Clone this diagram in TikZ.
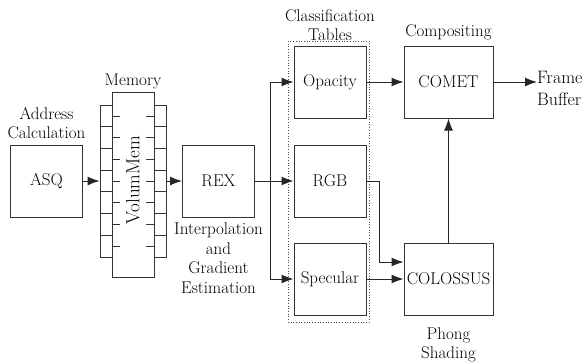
\documentclass[tikz,border=0pt]{standalone}
\usetikzlibrary{arrows.meta}
\tikzset{
  blk/.style={draw=black!80, line width=1pt, minimum width=72pt, minimum height=72pt, inner sep=0pt},
  cell/.style={draw=black!80, line width=0.8pt},
  lbl/.style={align=center, inner sep=0pt},
  arr/.style={draw=black!85, line width=1pt, -{Latex[length=12pt,width=9pt]}}
}
\begin{document}
\begin{tikzpicture}[x=1pt,y=-1pt,font=\fontsize{17}{19.5}\selectfont]
\useasboundingbox (0,0) rectangle (582,362);
\node[blk] (asq) at (46.5,181) {ASQ};
\node[lbl] (addr) at (46.5,123) {Address\\Calculation};
\node[cell, minimum width=12pt, minimum height=152pt, inner sep=0pt] (memleft) at (106,181) {};
\node[cell, minimum width=12pt, minimum height=152pt, inner sep=0pt] (memright) at (160,181) {};
\foreach \i in {1,...,6}
  \draw[cell] (100,105+21.71*\i) -- (112,105+21.71*\i)
              (154,105+21.71*\i) -- (166,105+21.71*\i);
\node[blk, minimum width=42pt, minimum height=185pt] (mem) at (133,184.5) {};
\foreach \i in {0,...,6}
  \draw[cell] (112,115.9+21.71*\i) -- (120,115.9+21.71*\i)
              (146,115.9+21.71*\i) -- (154,115.9+21.71*\i);
\node[rotate=90, font=\fontsize{19}{21}\selectfont] (vol) at (133,180) {VolumMem};
\node[lbl] (memlbl) at (133,81) {Memory};
\node[blk] (rex) at (218.5,181) {REX};
\node[lbl] (interp) at (218.5,258) {Interpolation\\and\\Gradient\\Estimation};
\node[blk] (opacity) at (330,82) {Opacity};
\node[blk] (rgb) at (330,181) {RGB};
\node[blk] (specular) at (330,279) {Specular};
\draw[black!70, line width=0.7pt, dotted] (288,41) rectangle (369,322);
\node[lbl] (classlbl) at (330,25) {Classification\\Tables};
\node[blk, minimum width=89pt] (comet) at (448.5,82) {COMET};
\node[lbl] (complbl) at (448.5,32) {Compositing};
\node[blk, minimum width=89pt] (colossus) at (448.5,279) {COLOSSUS};
\node[lbl] (phong) at (448.5,345) {Phong\\Shading};
\node[lbl, align=left, anchor=west, font=\fontsize{18}{22}\selectfont] (fb) at (537,88) {Frame\\Buffer};
\coordinate (split) at (270,181);
\draw[arr] (asq) -- (memleft);
\draw[arr] (memright) -- (rex);
\draw[black!85, line width=1pt] (rex) -- (split);
\draw[arr] (split) |- (opacity);
\draw[arr] (split) -- (rgb);
\draw[arr] (split) |- (specular);
\draw[arr] (opacity) -- (comet);
\draw[arr] (rgb.east) -- ++(13,0) |- ([yshift=17pt]colossus.west);
\draw[arr] (specular) -- (colossus);
\draw[arr] (colossus) -- (comet);
\draw[arr] (comet) -- (comet -| fb.west);
\end{tikzpicture}
\end{document}
